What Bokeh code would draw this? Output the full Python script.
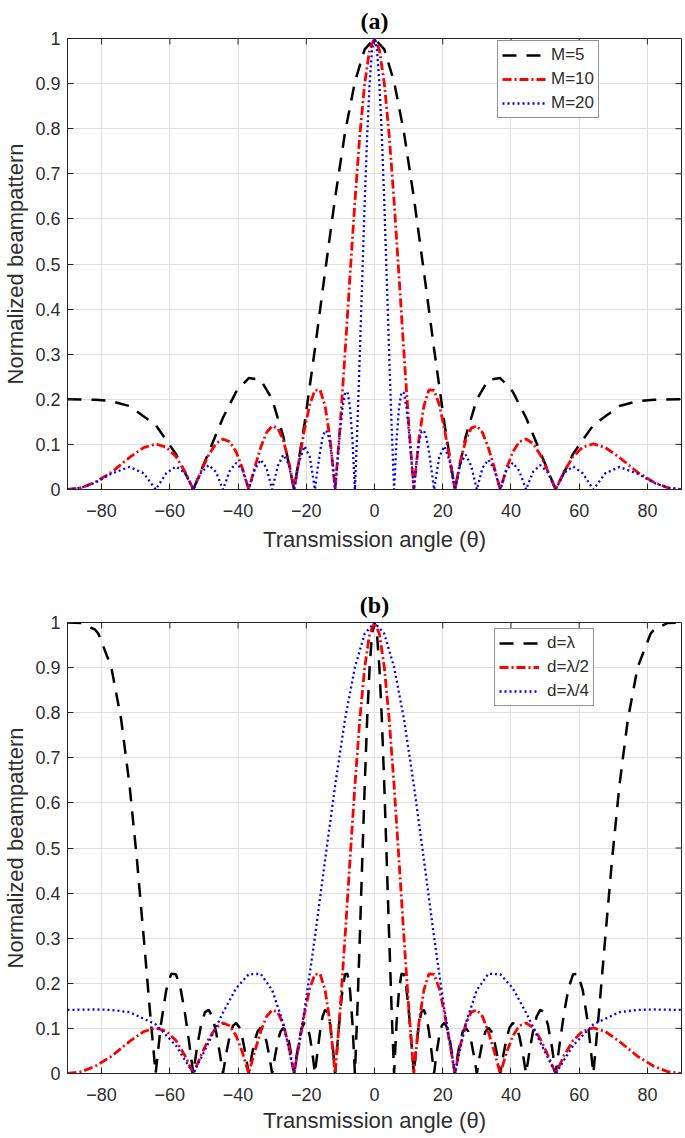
import math
from bokeh.plotting import figure
from bokeh.layouts import column
from bokeh.models import Legend, LegendItem, FixedTicker, Range1d
from bokeh.embed import file_html
from bokeh.resources import INLINE

# ---------------- data ----------------
X_TICKS = [-80, -60, -40, -20, 0, 20, 40, 60, 80]
Y_TICKS = [0, 0.1, 0.2, 0.3, 0.4, 0.5, 0.6, 0.7, 0.8, 0.9, 1]
Y_LABELS = {0: "0", 0.1: "0.1", 0.2: "0.2", 0.3: "0.3", 0.4: "0.4", 0.5: "0.5",
            0.6: "0.6", 0.7: "0.7", 0.8: "0.8", 0.9: "0.9", 1: "1"}
X_TITLE = "Transmission angle (\u03b8)"
Y_TITLE = "Normalized beampattern"

# panel (a): M = 5
theta_m5 = [-90, -81.89, -77.16, -71.81, -64.16, -58.21, -53.13, -48.59, -44.43, -40.54, -36.87,
            -33.37, -30.0, -26.74, -23.58, -20.49, -17.46, -14.48, -11.54, -8.63, -5.74, -2.87, 0,
            2.87, 5.74, 8.63, 11.54, 14.48, 17.46, 20.49, 23.58, 26.74, 30.0, 33.37, 36.87, 40.54,
            44.43, 48.59, 53.13, 58.21, 64.16, 71.81, 77.16, 81.89, 90]
bp_m5 = [0.2, 0.199, 0.196, 0.185, 0.143, 0.079, 0.0, 0.083, 0.159, 0.217, 0.247,
         0.243, 0.2, 0.118, 0.0, 0.147, 0.312, 0.483, 0.647, 0.792, 0.904, 0.976, 1.0,
         0.976, 0.904, 0.792, 0.647, 0.483, 0.312, 0.147, 0.0, 0.118, 0.2, 0.243, 0.247, 0.217,
         0.159, 0.083, 0.0, 0.079, 0.143, 0.185, 0.196, 0.199, 0.2]

# M = 10 with d = lambda/2 (panel (a) "M=10" and panel (b) "d=lambda/2")
theta_m10 = [-90, -85.95, -81.89, -77.16, -71.81, -67.67, -64.16, -61.05, -58.21, -55.59, -53.13,
             -50.81, -48.59, -46.47, -44.43, -42.45, -40.54, -38.68, -36.87, -35.10, -33.37, -31.67,
             -30.0, -28.36, -26.74, -25.15, -23.58, -22.02, -20.49, -18.97, -17.46, -15.96, -14.48,
             -13.00, -11.54, -10.08, -8.63, -7.18, -5.74, -4.30, -2.87, -1.43, 0,
             1.43, 2.87, 4.30, 5.74, 7.18, 8.63, 10.08, 11.54, 13.00, 14.48, 15.96, 17.46, 18.97,
             20.49, 22.02, 23.58, 25.15, 26.74, 28.36, 30.0, 31.67, 33.37, 35.10, 36.87, 38.68,
             40.54, 42.45, 44.43, 46.47, 48.59, 50.81, 53.13, 55.59, 58.21, 61.05, 64.16, 67.67,
             71.81, 77.16, 81.89, 85.95, 90]
bp_m10 = [0.0, 0.004, 0.016, 0.038, 0.071, 0.093, 0.101, 0.094, 0.073, 0.040, 0.0,
          0.041, 0.077, 0.102, 0.112, 0.106, 0.083, 0.046, 0.0, 0.049, 0.093, 0.126,
          0.141, 0.136, 0.109, 0.062, 0.0, 0.069, 0.135, 0.189, 0.220, 0.221, 0.185,
          0.111, 0.0, 0.141, 0.303, 0.474, 0.639, 0.786, 0.901, 0.975, 1.0,
          0.975, 0.901, 0.786, 0.639, 0.474, 0.303, 0.141, 0.0, 0.111, 0.185, 0.221, 0.220, 0.189,
          0.135, 0.069, 0.0, 0.062, 0.109, 0.136, 0.141, 0.126, 0.093, 0.049, 0.0, 0.046,
          0.083, 0.106, 0.112, 0.102, 0.077, 0.041, 0.0, 0.040, 0.073, 0.094, 0.101, 0.093,
          0.071, 0.038, 0.016, 0.004, 0.0]

# panel (a): M = 20
theta_m20 = [-90, -85.95, -81.89, -77.16, -71.81, -67.67, -64.16, -61.05, -58.21, -55.59, -53.13,
             -50.81, -48.59, -46.47, -44.43, -42.45, -40.54, -38.68, -36.87, -35.10, -33.37, -31.67,
             -30.0, -28.36, -26.74, -25.15, -23.58, -22.02, -20.49, -18.97, -17.46, -16.71, -15.96,
             -15.22, -14.48, -13.74, -13.00, -12.27, -11.54, -10.81, -10.08, -9.35, -8.63, -7.90,
             -7.18, -6.46, -5.74, -5.02, -4.30, -3.58, -2.87, -2.15, -1.43, -0.72, 0,
             0.72, 1.43, 2.15, 2.87, 3.58, 4.30, 5.02, 5.74, 6.46, 7.18, 7.90, 8.63, 9.35, 10.08,
             10.81, 11.54, 12.27, 13.00, 13.74, 14.48, 15.22, 15.96, 16.71, 17.46, 18.97, 20.49,
             22.02, 23.58, 25.15, 26.74, 28.36, 30.0, 31.67, 33.37, 35.10, 36.87, 38.68, 40.54,
             42.45, 44.43, 46.47, 48.59, 50.81, 53.13, 55.59, 58.21, 61.05, 64.16, 67.67, 71.81,
             77.16, 81.89, 85.95, 90]
bp_m20 = [0.0, 0.004, 0.015, 0.035, 0.050, 0.036, 0.0, 0.036, 0.051, 0.037, 0.0,
          0.038, 0.054, 0.039, 0.0, 0.041, 0.059, 0.043, 0.0, 0.045, 0.066, 0.048,
          0.0, 0.052, 0.077, 0.057, 0.0, 0.064, 0.096, 0.072, 0.0, 0.044, 0.084,
          0.115, 0.131, 0.127, 0.102, 0.058, 0.0, 0.066, 0.130, 0.183, 0.214, 0.216,
          0.181, 0.109, 0.0, 0.140, 0.301, 0.471, 0.637, 0.785, 0.901, 0.975, 1.0,
          0.975, 0.901, 0.785, 0.637, 0.471, 0.301, 0.140, 0.0, 0.109, 0.181, 0.216, 0.214, 0.183,
          0.130, 0.066, 0.0, 0.058, 0.102, 0.127, 0.131, 0.115, 0.084, 0.044, 0.0, 0.072, 0.096,
          0.064, 0.0, 0.057, 0.077, 0.052, 0.0, 0.048, 0.066, 0.045, 0.0, 0.043, 0.059,
          0.041, 0.0, 0.039, 0.054, 0.038, 0.0, 0.037, 0.051, 0.036, 0.0, 0.036, 0.050,
          0.035, 0.015, 0.004, 0.0]

# panel (b): d = lambda
theta_d1 = [-90, -85.95, -81.89, -80.93, -77.16, -74.29, -71.81, -69.64, -67.67, -65.86, -64.16,
            -62.57, -61.05, -59.60, -58.21, -56.87, -55.59, -54.34, -53.13, -51.95, -50.81, -49.69,
            -48.59, -47.52, -46.47, -45.44, -44.43, -43.43, -42.45, -41.49, -40.54, -39.61, -38.68,
            -37.77, -36.87, -35.98, -35.10, -34.23, -33.37, -32.52, -31.67, -30.83, -30.0, -29.18,
            -28.36, -27.55, -26.74, -25.94, -25.15, -24.36, -23.58, -22.80, -22.02, -21.25, -20.49,
            -19.73, -18.97, -18.21, -17.46, -16.71, -15.96, -15.22, -14.48, -13.74, -13.00, -12.27,
            -11.54, -10.81, -10.08, -9.35, -8.63, -7.90, -7.18, -6.46, -5.74, -5.02, -4.30, -3.58,
            -2.87, -2.15, -1.43, -0.72, 0,
            0.72, 1.43, 2.15, 2.87, 3.58, 4.30, 5.02, 5.74, 6.46, 7.18, 7.90, 8.63, 9.35, 10.08,
            10.81, 11.54, 12.27, 13.00, 13.74, 14.48, 15.22, 15.96, 16.71, 17.46, 18.21, 18.97,
            19.73, 20.49, 21.25, 22.02, 22.80, 23.58, 24.36, 25.15, 25.94, 26.74, 27.55, 28.36,
            29.18, 30.0, 30.83, 31.67, 32.52, 33.37, 34.23, 35.10, 35.98, 36.87, 37.77, 38.68,
            39.61, 40.54, 41.49, 42.45, 43.43, 44.43, 45.44, 46.47, 47.52, 48.59, 49.69, 50.81,
            51.95, 53.13, 54.34, 55.59, 56.87, 58.21, 59.60, 61.05, 62.57, 64.16, 65.86, 67.67,
            69.64, 71.81, 74.29, 77.16, 80.93, 81.89, 85.95, 90]
bp_d1 = [1.0, 0.999, 0.984, 0.975, 0.901, 0.786, 0.639, 0.474, 0.303, 0.141, 0.0,
         0.111, 0.185, 0.221, 0.220, 0.189, 0.135, 0.069, 0.0, 0.062, 0.109, 0.136,
         0.141, 0.126, 0.093, 0.049, 0.0, 0.046, 0.083, 0.106, 0.112, 0.102, 0.077,
         0.041, 0.0, 0.040, 0.073, 0.094, 0.101, 0.093, 0.071, 0.038, 0.0, 0.038,
         0.071, 0.093, 0.101, 0.094, 0.073, 0.040, 0.0, 0.041, 0.077, 0.102, 0.112,
         0.106, 0.083, 0.046, 0.0, 0.049, 0.093, 0.126, 0.141, 0.136, 0.109, 0.062,
         0.0, 0.069, 0.135, 0.189, 0.220, 0.221, 0.185, 0.111, 0.0, 0.141, 0.303, 0.474,
         0.639, 0.786, 0.901, 0.975, 1.0,
         0.975, 0.901, 0.786, 0.639, 0.474, 0.303, 0.141, 0.0, 0.111, 0.185, 0.221, 0.220, 0.189,
         0.135, 0.069, 0.0, 0.062, 0.109, 0.136, 0.141, 0.126, 0.093, 0.049, 0.0, 0.046, 0.083,
         0.106, 0.112, 0.102, 0.077, 0.041, 0.0, 0.040, 0.073, 0.094, 0.101, 0.093, 0.071,
         0.038, 0.0, 0.038, 0.071, 0.093, 0.101, 0.094, 0.073, 0.040, 0.0, 0.041, 0.077,
         0.102, 0.112, 0.106, 0.083, 0.046, 0.0, 0.049, 0.093, 0.126, 0.141, 0.136, 0.109,
         0.062, 0.0, 0.069, 0.135, 0.189, 0.220, 0.221, 0.185, 0.111, 0.0, 0.141, 0.303,
         0.474, 0.639, 0.786, 0.901, 0.975, 0.984, 0.999, 1.0]

# panel (b): d = lambda/4
theta_d4 = [-90, -81.89, -77.16, -71.81, -64.16, -58.21, -53.13, -48.59, -44.43, -40.54, -36.87,
            -33.37, -30.0, -26.74, -23.58, -20.49, -17.46, -14.48, -11.54, -8.63, -5.74, -2.87, 0,
            2.87, 5.74, 8.63, 11.54, 14.48, 17.46, 20.49, 23.58, 26.74, 30.0, 33.37, 36.87, 40.54,
            44.43, 48.59, 53.13, 58.21, 64.16, 71.81, 77.16, 81.89, 90]
bp_d4 = [0.141, 0.142, 0.141, 0.136, 0.109, 0.062, 0.0, 0.069, 0.135, 0.189, 0.220,
         0.221, 0.185, 0.111, 0.0, 0.141, 0.303, 0.474, 0.639, 0.786, 0.901, 0.975, 1.0,
         0.975, 0.901, 0.786, 0.639, 0.474, 0.303, 0.141, 0.0, 0.111, 0.185, 0.221, 0.220, 0.189,
         0.135, 0.069, 0.0, 0.062, 0.109, 0.136, 0.141, 0.142, 0.141]

# ---------------- styling ----------------
AXIS_COLOR = "#262626"
TEXT_COLOR = "#2e2e2e"
GRID_COLOR = "#e0e0e0"
SANS = "Liberation Sans"


def make_panel(title, height, top, bottom, xlabel_standoff):
    p = figure(width=685, height=height, x_range=Range1d(-90, 90), y_range=Range1d(0, 1),
               output_backend="svg", toolbar_location=None,
               min_border_left=66, min_border_right=4, min_border_top=top,
               min_border_bottom=bottom, x_axis_label=X_TITLE, y_axis_label=Y_TITLE)
    p.title.text = title
    p.title.align = "center"
    p.title.vertical_align = "middle"
    p.title.text_font = "Liberation Serif"
    p.title.text_font_style = "bold"
    p.title.text_font_size = "24px"
    p.title.text_color = "black"
    p.title.standoff = 8
    p.background_fill_color = "white"
    p.border_fill_color = "white"
    p.outline_line_color = AXIS_COLOR
    p.outline_line_width = 1
    p.outline_line_alpha = 1

    p.xaxis.ticker = FixedTicker(ticks=X_TICKS)
    p.yaxis.ticker = FixedTicker(ticks=Y_TICKS)
    p.yaxis.major_label_overrides = Y_LABELS
    for ax in (p.xaxis[0], p.yaxis[0]):
        ax.major_tick_in = 6
        ax.major_tick_out = 0
        ax.minor_tick_line_color = None
        ax.axis_line_color = AXIS_COLOR
        ax.major_tick_line_color = AXIS_COLOR
        ax.major_label_text_font = SANS
        ax.major_label_text_font_size = "18px"
        ax.major_label_text_color = TEXT_COLOR
        ax.axis_label_text_font = SANS
        ax.axis_label_text_font_size = "22px"
        ax.axis_label_text_font_style = "normal"
        ax.axis_label_text_color = TEXT_COLOR
    p.xaxis.major_label_standoff = 14
    p.xaxis.axis_label_standoff = xlabel_standoff
    p.yaxis.major_label_standoff = 7
    p.yaxis.axis_label_standoff = 4

    p.xgrid.ticker = FixedTicker(ticks=X_TICKS)
    p.ygrid.ticker = FixedTicker(ticks=Y_TICKS)
    p.grid.grid_line_color = GRID_COLOR
    p.grid.grid_line_width = 1

    # inward tick marks on the top and right edges of the box
    p.scatter(x=X_TICKS, y=[p.y_range.end] * len(X_TICKS), marker="dash", size=12,
              angle=math.pi / 2, line_color=AXIS_COLOR, line_width=1)
    p.scatter(x=[p.x_range.end] * len(Y_TICKS), y=Y_TICKS, marker="dash", size=12,
              line_color=AXIS_COLOR, line_width=1)
    return p


def add_legend(p, items, loc, glyph_w, standoff):
    lg = Legend(items=items, location=loc)
    lg.label_text_font = SANS
    lg.label_text_font_size = "17px"
    lg.label_text_color = TEXT_COLOR
    lg.glyph_width = glyph_w
    lg.glyph_height = 20
    lg.label_height = 20
    lg.label_standoff = standoff
    lg.spacing = 4
    lg.padding = 4
    lg.margin = 0
    lg.border_line_color = AXIS_COLOR
    lg.border_line_width = 1
    lg.background_fill_color = "white"
    lg.background_fill_alpha = 1
    p.add_layout(lg)


# ---------------- panel (a) ----------------
pa = make_panel("(a)", 580, 38, 91, 7)
r5 = pa.line(theta_m5, bp_m5, line_color="black", line_width=2.5, line_dash="14 10")
r10 = pa.line(theta_m10, bp_m10, line_color="red", line_width=2.8, line_dash="9 3 2 3")
r20 = pa.line(theta_m20, bp_m20, line_color="blue", line_width=2.3, line_dash="2 3")
add_legend(pa, [LegendItem(label="M=5", renderers=[r5]),
                LegendItem(label="M=10", renderers=[r10]),
                LegendItem(label="M=20", renderers=[r20])], (430, 371), 44, 5)

# ---------------- panel (b) ----------------
pb = make_panel("(b)", 558, 42, 65, 4)
s1 = pb.line(theta_d1, bp_d1, line_color="black", line_width=2.5, line_dash="14 10")
s2 = pb.line(theta_m10, bp_m10, line_color="red", line_width=2.8, line_dash="9 3 2 3")
s4 = pb.line(theta_d4, bp_d4, line_color="blue", line_width=2.3, line_dash="2 3")
add_legend(pb, [LegendItem(label="d=\u03bb", renderers=[s1]),
                LegendItem(label="d=\u03bb/2", renderers=[s2]),
                LegendItem(label="d=\u03bb/4", renderers=[s4])], (427, 367), 40, 8)

layout = column(pa, pb)
open("out.html", "w").write(file_html(layout, INLINE))
